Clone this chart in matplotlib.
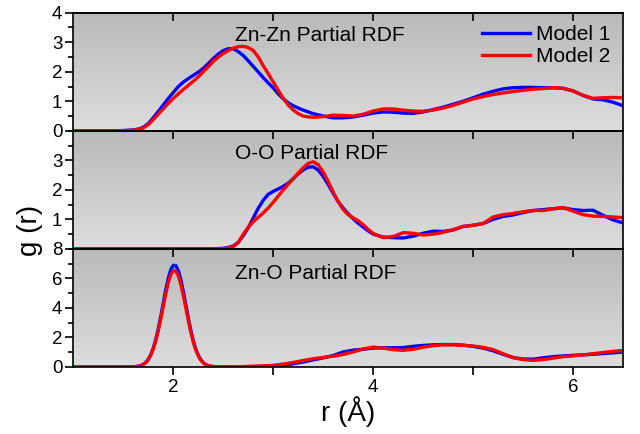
import numpy as np
import matplotlib
matplotlib.use("Agg")
import matplotlib.pyplot as plt
from matplotlib.ticker import MultipleLocator, FixedLocator
from matplotlib.colors import LinearSegmentedColormap

plt.rcParams['font.family'] = ['Liberation Sans', 'DejaVu Sans']

# ---------------- data ----------------
r_znzn = [1.0, 1.1, 1.2, 1.3, 1.4,
          1.5, 1.55, 1.6, 1.65, 1.7, 1.75, 1.8, 1.85, 1.9, 1.95,
          2.0, 2.05, 2.1, 2.15, 2.2, 2.25, 2.3, 2.35, 2.4, 2.45,
          2.5, 2.55, 2.6, 2.65, 2.7, 2.75, 2.8, 2.85, 2.9, 2.95,
          3.0, 3.05, 3.1, 3.15, 3.2, 3.25, 3.3, 3.35, 3.4, 3.45, 3.5,
          3.6, 3.7, 3.8, 3.9, 4.0, 4.1, 4.2, 4.3, 4.4, 4.5, 4.6, 4.7, 4.8, 4.9,
          5.0, 5.1, 5.2, 5.3, 5.4, 5.5, 5.6, 5.7, 5.8, 5.9, 6.0, 6.1, 6.2, 6.3, 6.4, 6.5]
znzn_model1 = [0, 0, 0, 0, 0,
               0.01, 0.02, 0.03, 0.06, 0.12, 0.25, 0.45, 0.66, 0.88, 1.1,
               1.3, 1.5, 1.65, 1.77, 1.88, 1.99, 2.12, 2.28, 2.45, 2.6,
               2.72, 2.78, 2.78, 2.68, 2.55, 2.37, 2.18, 1.99, 1.8, 1.62,
               1.45, 1.25, 1.08, 0.95, 0.85, 0.77, 0.7, 0.64, 0.58, 0.54, 0.5,
               0.44, 0.44, 0.47, 0.53, 0.6, 0.64, 0.63, 0.6, 0.59, 0.64, 0.72, 0.8, 0.9, 1.0,
               1.12, 1.24, 1.34, 1.42, 1.46, 1.47, 1.47, 1.46, 1.46, 1.44, 1.35, 1.2, 1.08, 1.05, 0.97, 0.85]
znzn_model2 = [0, 0, 0, 0, 0,
               0, 0.01, 0.02, 0.05, 0.1, 0.21, 0.38, 0.57, 0.75, 0.93,
               1.1, 1.25, 1.4, 1.54, 1.68, 1.83, 2.0, 2.17, 2.35, 2.5,
               2.62, 2.72, 2.8, 2.85, 2.86, 2.82, 2.72, 2.5, 2.2, 1.93,
               1.65, 1.37, 1.1, 0.87, 0.7, 0.58, 0.5, 0.47, 0.46, 0.47, 0.48,
               0.53, 0.52, 0.5, 0.56, 0.67, 0.74, 0.74, 0.7, 0.67, 0.66, 0.7, 0.77, 0.86, 0.97,
               1.08, 1.16, 1.23, 1.28, 1.33, 1.37, 1.41, 1.43, 1.46, 1.44, 1.35, 1.2, 1.1, 1.12, 1.13, 1.12]

r_oo = [1.0, 1.1, 1.2, 1.3, 1.4, 1.5, 1.6, 1.7, 1.8, 1.9, 2.0, 2.1, 2.2, 2.3,
        2.4, 2.45, 2.5, 2.55, 2.6, 2.65, 2.7, 2.75, 2.8, 2.85, 2.9, 2.95,
        3.0, 3.05, 3.1, 3.15, 3.2, 3.25, 3.3, 3.35, 3.4, 3.45, 3.5, 3.55,
        3.6, 3.65, 3.7, 3.75, 3.8, 3.85, 3.9, 3.95, 4.0,
        4.1, 4.2, 4.3, 4.4, 4.5, 4.6, 4.7, 4.8, 4.9, 5.0, 5.1, 5.2, 5.3,
        5.4, 5.5, 5.6, 5.7, 5.8, 5.9, 6.0, 6.1, 6.2, 6.3, 6.4, 6.5]
oo_model1 = [0, 0, 0, 0, 0, 0, 0, 0, 0, 0, 0, 0, 0, 0,
             0, 0.01, 0.02, 0.05, 0.1, 0.22, 0.45, 0.72, 1.05, 1.38, 1.65, 1.85,
             1.95, 2.03, 2.12, 2.23, 2.38, 2.54, 2.68, 2.77, 2.78, 2.67, 2.45, 2.18,
             1.88, 1.6, 1.38, 1.19, 1.02, 0.87, 0.74, 0.61, 0.5,
             0.4, 0.38, 0.37, 0.43, 0.53, 0.6, 0.59, 0.64, 0.76, 0.8, 0.86, 1.0, 1.1,
             1.15, 1.23, 1.3, 1.33, 1.36, 1.39, 1.33, 1.3, 1.31, 1.14, 0.98, 0.88]
oo_model2 = [0, 0, 0, 0, 0, 0, 0, 0, 0, 0, 0, 0, 0, 0,
             0, 0, 0.01, 0.03, 0.08, 0.22, 0.5, 0.74, 0.92, 1.07, 1.22, 1.39,
             1.58, 1.79, 2.0, 2.19, 2.38, 2.57, 2.75, 2.9, 2.95, 2.85, 2.6, 2.28,
             1.92, 1.6, 1.33, 1.16, 1.05, 0.95, 0.82, 0.66, 0.52,
             0.38, 0.42, 0.55, 0.53, 0.47, 0.5, 0.56, 0.65, 0.76, 0.8, 0.86, 1.08, 1.16,
             1.2, 1.26, 1.3, 1.3, 1.36, 1.4, 1.28, 1.16, 1.11, 1.1, 1.08, 1.06]

r_zno = [1.0, 1.1, 1.2, 1.3, 1.4, 1.5,
         1.6, 1.625, 1.65, 1.675, 1.7, 1.725, 1.75, 1.775, 1.8, 1.825,
         1.85, 1.875, 1.9, 1.925, 1.95, 1.975, 2.0, 2.025, 2.05, 2.075,
         2.1, 2.125, 2.15, 2.175, 2.2, 2.225, 2.25, 2.275, 2.3, 2.325,
         2.35, 2.375, 2.4, 2.425, 2.45,
         2.5, 2.6, 2.7, 2.8, 2.9, 3.0, 3.1, 3.2, 3.3, 3.4, 3.5, 3.6, 3.7,
         3.8, 3.9, 4.0, 4.1, 4.2, 4.3, 4.4, 4.5, 4.6, 4.7, 4.8, 4.9, 5.0,
         5.1, 5.2, 5.3, 5.4, 5.5, 5.6, 5.7, 5.8, 5.9, 6.0, 6.1, 6.2, 6.3,
         6.4, 6.5]
zno_model1 = [0, 0, 0, 0, 0, 0,
              0.01, 0.03, 0.05, 0.1, 0.18, 0.32, 0.54, 0.86, 1.31, 1.9,
              2.63, 3.47, 4.38, 5.27, 6.04, 6.61, 6.89, 6.86, 6.51, 5.9,
              5.09, 4.2, 3.3, 2.47, 1.77, 1.2, 0.78, 0.49, 0.29, 0.16,
              0.09, 0.05, 0.03, 0.02, 0.02,
              0.02, 0.02, 0.02, 0.03, 0.04, 0.05, 0.12, 0.22, 0.34, 0.48, 0.62, 0.78, 1.02,
              1.14, 1.2, 1.28, 1.3, 1.3, 1.32, 1.4, 1.46, 1.5, 1.52, 1.52, 1.48, 1.4,
              1.28, 1.1, 0.86, 0.64, 0.54, 0.53, 0.62, 0.7, 0.75, 0.79, 0.82, 0.86, 0.91,
              0.96, 1.01]
zno_model2 = [0, 0, 0, 0, 0, 0,
              0.01, 0.03, 0.05, 0.09, 0.17, 0.3, 0.51, 0.82, 1.24, 1.8,
              2.49, 3.29, 4.15, 5.0, 5.73, 6.27, 6.53, 6.5, 6.17, 5.59,
              4.83, 3.98, 3.13, 2.34, 1.68, 1.14, 0.74, 0.46, 0.27, 0.15,
              0.09, 0.05, 0.03, 0.02, 0.02,
              0.02, 0.02, 0.03, 0.05, 0.08, 0.11, 0.2, 0.31, 0.44, 0.56, 0.65, 0.73, 0.85,
              1.02, 1.22, 1.35, 1.28, 1.17, 1.13, 1.2, 1.34, 1.44, 1.5, 1.5, 1.47, 1.42,
              1.33, 1.18, 0.9, 0.64, 0.5, 0.45, 0.5, 0.6, 0.7, 0.75, 0.82, 0.9, 0.98,
              1.06, 1.12]

panel_titles = ["Zn-Zn Partial RDF", "O-O Partial RDF", "Zn-O Partial RDF"]
series_labels = ["Model 1", "Model 2"]
x_ticks = [2, 4, 6]

# ---------------- figure ----------------
fig = plt.figure(figsize=(6.4, 4.34), dpi=100)
gs = fig.add_gridspec(3, 1, left=0.1148, right=0.9734, top=0.9707, bottom=0.1544, hspace=0)
axes = [fig.add_subplot(gs[i]) for i in range(3)]

grad = np.linspace(0, 1, 256).reshape(-1, 1)
bg_cmap = LinearSegmentedColormap.from_list("bg", ["#b9b9b9", "#dddddd"])

panels = [
    (r_znzn, znzn_model1, znzn_model2, (0, 4), [0, 1, 2, 3, 4], 0.5, 0.81),
    (r_oo, oo_model1, oo_model2, (0, 4), [1, 2, 3], 0.5, 0.81),
    (r_zno, zno_model1, zno_model2, (0, 8), [0, 2, 4, 6, 8], 1.0, 0.79),
]

for ax, (xs, y1, y2, ylim, yt, yminor, ty), title in zip(axes, panels, panel_titles):
    ax.imshow(grad, extent=(0, 1, 0, 1), transform=ax.transAxes, cmap=bg_cmap,
              aspect='auto', zorder=0, interpolation='bilinear')
    ax.plot(xs, y1, color='#0000ff', lw=2.4, zorder=3, label=series_labels[0],
            solid_joinstyle='round')
    ax.plot(xs, y2, color='#ff0000', lw=2.4, zorder=4, label=series_labels[1],
            solid_joinstyle='round')
    ax.set_xlim(1, 6.5)
    ax.set_ylim(*ylim)
    ax.yaxis.set_major_locator(FixedLocator(yt))
    ax.yaxis.set_minor_locator(MultipleLocator(yminor))
    ax.xaxis.set_major_locator(FixedLocator(x_ticks))
    ax.xaxis.set_minor_locator(FixedLocator([3, 5]))
    ax.tick_params(axis='y', which='major', direction='out', length=6, width=1.2,
                   labelsize=13.5, pad=2)
    ax.tick_params(axis='y', which='minor', direction='out', length=3.5, width=1.2)
    ax.tick_params(axis='y', right=False)
    ax.tick_params(axis='x', which='both', top=False, bottom=False, labelbottom=False)
    for s in ax.spines.values():
        s.set_linewidth(1.2)
        s.set_zorder(5)
    # inward ticks on the top edge of every panel
    top = ax.secondary_xaxis('top')
    top.xaxis.set_major_locator(FixedLocator([2, 3, 4, 5, 6]))
    top.tick_params(axis='x', which='major', direction='in', length=6, width=1.2,
                    labeltop=False)
    top.spines['top'].set_linewidth(1.2)
    ax.text(2.62, ty, title, transform=ax.get_xaxis_transform(), fontsize=15,
            va='center', ha='left', zorder=6)

ax3 = axes[2]
ax3.tick_params(axis='x', which='both', bottom=True, labelbottom=True, direction='out',
                length=6, width=1.2, labelsize=13.5, pad=3)
ax3.set_xlabel("r (Å)", fontsize=20, labelpad=0)

axes[0].legend(loc='upper right', frameon=False, fontsize=15, handlelength=2.3,
               handletextpad=0.3, borderaxespad=0.2, labelspacing=0.15,
               bbox_to_anchor=(1.0, 1.0))

fig.text(0.047, 0.47, "g (r)", rotation=90, fontsize=20, va='center', ha='center')

fig.savefig("out.png", dpi=100)
